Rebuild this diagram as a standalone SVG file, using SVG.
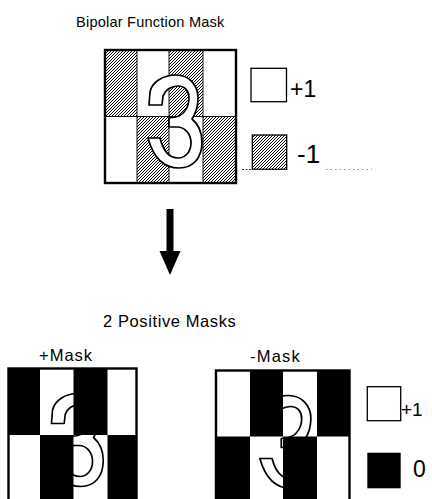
<svg xmlns="http://www.w3.org/2000/svg" xmlns:xlink="http://www.w3.org/1999/xlink" width="432" height="499" viewBox="0 0 432 499">
<style>
text{font-family:"Liberation Sans",Arial,sans-serif;fill:#000}
.t{font-size:14.6px;letter-spacing:0.2px}
.m{font-size:16.5px;letter-spacing:0.6px}
.big{font-size:23px}
.three{fill:#fff;stroke:#000;stroke-width:1.7;stroke-linejoin:round}
.hat{fill:url(#h);stroke:#000;stroke-width:0.9}
.blk{fill:#000}
.wht{fill:#fff}
.bord{fill:none;stroke:#000;stroke-width:2.4}
</style>
<defs>
<pattern id="h" width="3" height="3" patternUnits="userSpaceOnUse">
<rect width="3" height="3" fill="#fff"/>
<path d="M-0.5,0.5 L0.5,-0.5 M0,3 L3,0 M2.5,3.5 L3.5,2.5" stroke="#000" stroke-width="1"/>
</pattern>
<path id="three" d="M44,55 L45,42 C47,32 58,25 71,25 C84,25 93,35 93,48 C93,57 91,63 87,69 C93,74 97,82 97,92 C97,108 88,118 74,118 C60,118 49,110 43,88 L55,88 C58,100 64,108 73,108 C81,108 86,101 86,93 C86,84 80,77 72,77 L64,77 L64,68 L71,67 C79,65 84,57 84,48 C84,41 80,36 73,36 C66,36 60,40 58,46 L57,55 Z"/>
</defs>

<g id="title">
<text class="t" x="76" y="27">Bipolar Function Mask</text>
</g>

<g id="bipolar-mask">
<rect x="105" y="50" width="131" height="133" fill="#fff"/>
<rect class="hat" x="105" y="50" width="32" height="66.5"/>
<rect class="hat" x="169" y="50" width="34" height="66.5"/>
<rect class="hat" x="137" y="116.5" width="32" height="66.5"/>
<rect class="hat" x="203" y="116.5" width="33" height="66.5"/>
<use xlink:href="#three" class="three" transform="translate(105,50)"/>
<rect class="bord" x="105" y="50" width="131" height="133"/>
</g>

<g id="legend-top">
<rect x="251" y="68.3" width="35.5" height="33.4" fill="#fff" stroke="#000" stroke-width="1.3"/>
<text class="big" x="290" y="96.7">+1</text>
<rect x="252.3" y="135" width="34.4" height="34.3" fill="url(#h)" stroke="#000" stroke-width="1.3"/>
<text x="297" y="162.7" style="font-size:26px">-1</text>
<line x1="242" y1="169.5" x2="287" y2="169.5" stroke="#333" stroke-width="1" stroke-dasharray="2,1.5"/>
<line x1="326" y1="169.5" x2="372" y2="169.5" stroke="#777" stroke-width="0.8" stroke-dasharray="1.5,3"/>
</g>

<g id="connectors">
<rect x="166.5" y="209" width="7" height="43" fill="#000"/>
<polygon points="159.5,251 180.5,251 170,275" fill="#000"/>
</g>

<g id="subtitle">
<text class="m" x="103" y="327">2 Positive Masks</text>
</g>

<g id="plus-mask">
<text class="m" x="39" y="361" style="letter-spacing:1px">+Mask</text>
<rect class="wht" x="8.5" y="368.5" width="128" height="134"/>
<use xlink:href="#three" class="three" transform="translate(8.5,368.5) scale(0.977,1)"/>
<rect class="blk" x="8.5" y="368.5" width="31.5" height="66.5"/>
<rect class="blk" x="73.5" y="368.5" width="34" height="66.5"/>
<rect class="blk" x="40" y="435" width="33.5" height="67"/>
<rect class="blk" x="107.5" y="435" width="29" height="67"/>
<rect class="bord" x="8.5" y="368.5" width="128" height="134"/>
</g>

<g id="minus-mask">
<text class="m" x="250" y="362" style="letter-spacing:1.2px">-Mask</text>
<rect class="wht" x="216" y="370.5" width="133.5" height="134"/>
<use xlink:href="#three" class="three" transform="translate(216,370.5) scale(1.02,1)"/>
<rect class="blk" x="250" y="370.5" width="33" height="66"/>
<rect class="blk" x="317" y="370.5" width="32.5" height="66"/>
<rect class="blk" x="216" y="436.5" width="34" height="68"/>
<rect class="blk" x="283" y="436.5" width="34" height="68"/>
<rect class="bord" x="216" y="370.5" width="133.5" height="134"/>
</g>

<g id="legend-bottom">
<rect x="367.3" y="386.7" width="33.4" height="34" fill="#fff" stroke="#000" stroke-width="1.3"/>
<text x="401" y="416" style="font-size:19px">+1</text>
<rect x="367.3" y="452.7" width="33.4" height="35.6" fill="#000"/>
<text class="big" x="413" y="476.7">0</text>
</g>
</svg>
